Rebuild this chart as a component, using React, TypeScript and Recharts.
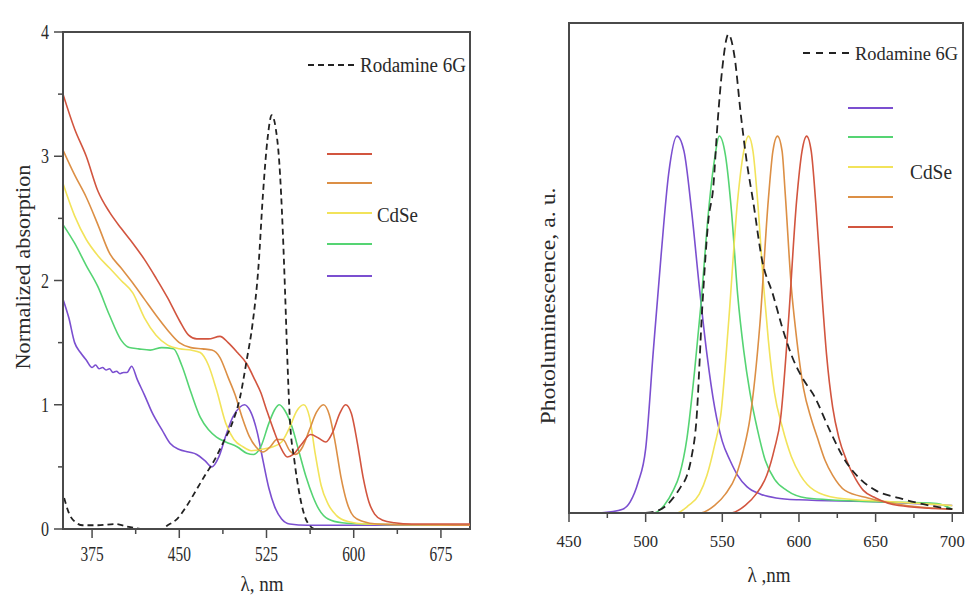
import React from "react";
import { LineChart, Line, XAxis, YAxis, ReferenceArea } from "recharts";

const serif = "'Liberation Serif', 'DejaVu Serif', serif";
const axisColor = "#4a4a4a";
const textColor = "#2a2a2a";

const cRed = "#d2553f";
const cOrange = "#dc8f45";
const cYellow = "#f2e35a";
const cGreen = "#55d473";
const cPurple = "#7b4fd0";
const cDash = "#222";

// ---- absorption spectra (left), [wavelength nm, normalized absorption]
const absRed: [number, number][] = [
  [350, 3.5], [360, 3.22], [370, 3.0], [380, 2.72], [390, 2.55], [400, 2.42], [410, 2.3],
  [420, 2.17], [430, 2.02], [440, 1.86], [450, 1.68], [458, 1.56], [465, 1.53], [475, 1.53],
  [485, 1.55], [492, 1.5], [500, 1.42], [508, 1.33], [515, 1.2], [520, 1.1], [525, 0.96],
  [531, 0.8], [537, 0.66], [543, 0.58], [548, 0.6], [555, 0.68], [563, 0.76], [570, 0.73],
  [576, 0.7], [582, 0.78], [588, 0.93], [593, 1.0], [598, 0.93], [603, 0.7], [608, 0.42],
  [613, 0.22], [618, 0.12], [625, 0.07], [635, 0.05], [650, 0.04], [700, 0.04],
];
const absOrange: [number, number][] = [
  [350, 3.05], [360, 2.85], [370, 2.67], [380, 2.45], [390, 2.22], [400, 2.1], [410, 1.98],
  [420, 1.85], [430, 1.72], [440, 1.6], [450, 1.5], [460, 1.46], [470, 1.45], [478, 1.44],
  [485, 1.38], [492, 1.22], [498, 1.08], [504, 0.9], [510, 0.75], [516, 0.66], [522, 0.62],
  [528, 0.66], [534, 0.72], [539, 0.72], [545, 0.63], [550, 0.6], [556, 0.66], [562, 0.8],
  [568, 0.94], [574, 1.0], [579, 0.92], [584, 0.7], [589, 0.42], [594, 0.22], [600, 0.1],
  [608, 0.06], [620, 0.04], [700, 0.03],
];
const absYellow: [number, number][] = [
  [350, 2.78], [360, 2.52], [370, 2.33], [380, 2.2], [390, 2.1], [400, 2.0], [410, 1.9],
  [420, 1.7], [430, 1.56], [440, 1.48], [450, 1.45], [460, 1.44], [468, 1.42], [475, 1.32],
  [482, 1.12], [490, 0.85], [497, 0.72], [505, 0.66], [512, 0.63], [520, 0.64], [530, 0.66],
  [538, 0.7], [545, 0.82], [551, 0.95], [557, 1.0], [562, 0.9], [567, 0.6], [572, 0.35],
  [578, 0.2], [585, 0.11], [595, 0.06], [610, 0.04], [700, 0.03],
];
const absGreen: [number, number][] = [
  [350, 2.45], [360, 2.3], [370, 2.12], [380, 1.95], [390, 1.72], [400, 1.52], [407, 1.46],
  [415, 1.45], [425, 1.44], [435, 1.46], [445, 1.45], [452, 1.32], [460, 1.1], [468, 0.9],
  [475, 0.8], [482, 0.74], [490, 0.7], [500, 0.66], [508, 0.61], [514, 0.6], [520, 0.66],
  [527, 0.85], [532, 0.96], [536, 1.0], [541, 0.95], [547, 0.82], [553, 0.62], [559, 0.42],
  [565, 0.26], [570, 0.16], [578, 0.08], [590, 0.05], [610, 0.04], [700, 0.03],
];
const absPurple: [number, number][] = [
  [350, 1.85], [355, 1.7], [360, 1.5], [365, 1.42], [370, 1.36], [375, 1.3], [378, 1.32],
  [381, 1.29], [384, 1.3], [387, 1.28], [390, 1.29], [393, 1.26], [396, 1.27], [399, 1.25],
  [402, 1.26], [405, 1.26], [409, 1.31], [414, 1.2], [420, 1.08], [427, 0.93], [435, 0.8],
  [442, 0.69], [450, 0.64], [458, 0.62], [465, 0.6], [472, 0.55], [478, 0.5], [484, 0.58],
  [490, 0.75], [496, 0.9], [502, 0.98], [506, 1.0], [511, 0.95], [517, 0.78], [522, 0.55],
  [527, 0.33], [532, 0.18], [538, 0.08], [545, 0.04], [560, 0.03], [700, 0.03],
];
const absRhodamine: [number, number][] = [
  [351, 0.25], [355, 0.13], [360, 0.06], [367, 0.03], [380, 0.03], [395, 0.04], [405, 0.02],
  [420, 0.0], [435, 0.0], [440, 0.03], [448, 0.08], [456, 0.18], [465, 0.32], [472, 0.43],
  [480, 0.55], [488, 0.7], [495, 0.84], [502, 1.05], [508, 1.36], [513, 1.65], [518, 2.1],
  [522, 2.7], [526, 3.15], [529.5, 3.33], [533, 3.22], [536, 2.95], [539, 2.4], [541, 1.9],
  [543, 1.35], [545, 0.9], [549, 0.55], [553, 0.3], [558, 0.1], [562, 0.03], [566, 0.0],
];

// ---- photoluminescence spectra (right), [wavelength nm, intensity a.u.]
const plPurple: [number, number][] = [
  [470, 0], [485, 0.01], [490, 0.03], [495, 0.08], [500, 0.17], [505, 0.43], [510, 0.68],
  [515, 0.9], [520.5, 1.0], [525, 0.96], [530, 0.8], [535, 0.6], [540, 0.42], [545, 0.28],
  [550, 0.19], [555, 0.14], [560, 0.1], [566, 0.07], [575, 0.05], [585, 0.04], [600, 0.035],
  [650, 0.03], [700, 0.02],
];
const plGreen: [number, number][] = [
  [470, 0], [505, 0], [512, 0.02], [518, 0.06], [522, 0.1], [527, 0.2], [532, 0.38],
  [536, 0.55], [541, 0.8], [545, 0.94], [548, 1.0], [552, 0.95], [556, 0.8], [560, 0.58],
  [564, 0.43], [568, 0.32], [573, 0.22], [578, 0.14], [584, 0.09], [592, 0.06], [605, 0.04],
  [650, 0.03], [690, 0.025], [700, 0.01],
];
const plYellow: [number, number][] = [
  [470, 0], [520, 0], [528, 0.02], [535, 0.05], [540, 0.1], [545, 0.18], [549, 0.26],
  [554, 0.5], [560, 0.83], [564, 0.96], [567, 1.0], [570, 0.96], [573, 0.83], [577, 0.6],
  [580, 0.46], [584, 0.32], [589, 0.23], [595, 0.15], [601, 0.1], [610, 0.06], [625, 0.04],
  [660, 0.03], [700, 0.02],
];
const plOrange: [number, number][] = [
  [470, 0], [535, 0], [545, 0.02], [552, 0.05], [559, 0.1], [564, 0.17], [568, 0.25],
  [574.5, 0.5], [580, 0.83], [583, 0.96], [586, 1.0], [589, 0.96], [591, 0.85], [595, 0.6],
  [598, 0.48], [603, 0.33], [608, 0.25], [612, 0.2], [617, 0.14], [622, 0.1], [630, 0.06],
  [645, 0.04], [670, 0.02], [700, 0.01],
];
const plRed: [number, number][] = [
  [470, 0], [555, 0], [565, 0.02], [572, 0.05], [579, 0.1], [584, 0.17], [588, 0.25],
  [593, 0.5], [598.5, 0.83], [602, 0.96], [605, 1.0], [608, 0.96], [611, 0.82], [615, 0.58],
  [618, 0.42], [622, 0.28], [626, 0.2], [631, 0.14], [637, 0.09], [642, 0.06], [650, 0.04],
  [665, 0.02], [700, 0.01],
];
const plRhodamine: [number, number][] = [
  [500, 0], [510, 0.01], [518, 0.04], [523, 0.07], [527, 0.1], [530, 0.15], [533, 0.24],
  [537, 0.55], [541, 0.78], [544, 0.86], [547, 1.04], [550, 1.18], [554, 1.27], [558, 1.21],
  [562, 1.06], [566, 0.93], [570, 0.83], [576, 0.67], [583, 0.58], [590, 0.48], [596, 0.41],
  [602, 0.36], [610, 0.31], [620, 0.22], [630, 0.14], [640, 0.09], [650, 0.06], [665, 0.04],
  [685, 0.02], [700, 0.01],
];

// ---- axes
const absXTicks = [375, 412.5, 450, 487.5, 525, 562.5, 600, 637.5, 675];
const absYTicks = [0, 0.5, 1, 1.5, 2, 2.5, 3, 3.5, 4];
const plXTicks = [450, 475, 500, 525, 550, 575, 600, 625, 650, 675, 700];

const toPts = (arr: [number, number][]) => arr.map(([x, y]) => ({ x, y }));

const textStyle = { fontFamily: serif };

const makeXTick = (isMajor: (v: number) => boolean, labelDy: number, charW: number, size: number) =>
  (props: any) => {
    const { x, y, payload } = props;
    const v = payload.value;
    const major = isMajor(v);
    const label = String(v);
    return (
      <g>
        <line x1={x} x2={x} y1={y} y2={y + (major ? 9 : 5)} stroke={axisColor} strokeWidth={1.5} />
        {major && (
          <text x={x} y={y + labelDy} textAnchor="middle" style={textStyle} fontSize={size}
            fill={textColor} textLength={charW * label.length} lengthAdjust="spacingAndGlyphs">
            {label}
          </text>
        )}
      </g>
    );
  };

const absYTick = (props: any) => {
  const { x, y, payload } = props;
  const v = payload.value;
  const major = Number.isInteger(v);
  return (
    <g>
      <line x1={x - (major ? 9 : 5)} x2={x} y1={y} y2={y} stroke={axisColor} strokeWidth={1.5} />
      {major && (
        <text x={x - 14} y={y + 7} textAnchor="end" style={textStyle} fontSize={20}
          fill={textColor} textLength={8} lengthAdjust="spacingAndGlyphs">
          {String(v)}
        </text>
      )}
    </g>
  );
};

const lineProps = { type: "monotone" as const, dataKey: "y", dot: false, isAnimationActive: false, strokeWidth: 1.6 };

const LegendLine = ({ x1, x2, y, color, dash }: { x1: number; x2: number; y: number; color: string; dash?: string }) => (
  <line x1={x1} x2={x2} y1={y} y2={y} stroke={color} strokeWidth={2} strokeDasharray={dash} />
);

const Label = ({ x, y, text, len, size = 20, rotate = false, anchor = "start" }: any) => (
  <text x={x} y={y} style={textStyle} fontSize={size} fill={textColor} textAnchor={anchor}
    textLength={len} lengthAdjust="spacingAndGlyphs"
    transform={rotate ? `rotate(-90 ${x} ${y})` : undefined}>
    {text}
  </text>
);

export default function App() {
  return (
    <div style={{ position: "absolute", left: 0, top: 0, width: 965, height: 595, background: "#fff" }}>
      <div style={{ position: "absolute", left: 0, top: 0 }}>
        <LineChart width={480} height={595} margin={{ top: 32, right: 10, bottom: 0, left: 0 }}>
          <XAxis dataKey="x" type="number" domain={[350, 700]} ticks={absXTicks} interval={0}
            height={66} tickSize={0} tickMargin={0} tickLine={false}
            axisLine={{ stroke: axisColor, strokeWidth: 2 }}
            tick={makeXTick((v) => v % 75 === 0, 32, 7.7, 20)} allowDataOverflow />
          <YAxis type="number" domain={[0, 4]} ticks={absYTicks} interval={0} width={63}
            tickSize={0} tickMargin={0} tickLine={false}
            axisLine={{ stroke: axisColor, strokeWidth: 2 }} tick={absYTick} allowDataOverflow />
          <ReferenceArea x1={350} x2={700} y1={0} y2={4} fill="none" stroke={axisColor} strokeWidth={2} />
          <Line {...lineProps} data={toPts(absPurple)} stroke={cPurple} />
          <Line {...lineProps} data={toPts(absGreen)} stroke={cGreen} />
          <Line {...lineProps} data={toPts(absYellow)} stroke={cYellow} />
          <Line {...lineProps} data={toPts(absOrange)} stroke={cOrange} />
          <Line {...lineProps} data={toPts(absRed)} stroke={cRed} />
          <Line {...lineProps} data={toPts(absRhodamine)} stroke={cDash} strokeDasharray="6 4" strokeWidth={1.8} />
        </LineChart>
      </div>
      <div style={{ position: "absolute", left: 480, top: 0 }}>
        <LineChart width={485} height={595} margin={{ top: 23, right: 2, bottom: 0, left: 0 }}>
          <XAxis dataKey="x" type="number" domain={[450, 707]} ticks={plXTicks} interval={0}
            height={82} tickSize={0} tickMargin={0} tickLine={false}
            axisLine={{ stroke: axisColor, strokeWidth: 2 }}
            tick={makeXTick((v) => v % 50 === 0, 34, 8.3, 17)} allowDataOverflow />
          <YAxis type="number" domain={[0, 1.3]} width={89} tick={false} tickLine={false}
            axisLine={{ stroke: axisColor, strokeWidth: 2 }} allowDataOverflow />
          <ReferenceArea x1={450} x2={707} y1={0} y2={1.3} fill="none" stroke={axisColor} strokeWidth={2} />
          <Line {...lineProps} data={toPts(plPurple)} stroke={cPurple} />
          <Line {...lineProps} data={toPts(plGreen)} stroke={cGreen} />
          <Line {...lineProps} data={toPts(plYellow)} stroke={cYellow} />
          <Line {...lineProps} data={toPts(plOrange)} stroke={cOrange} />
          <Line {...lineProps} data={toPts(plRed)} stroke={cRed} />
          <Line {...lineProps} data={toPts(plRhodamine)} stroke={cDash} strokeDasharray="8 5" strokeWidth={1.8} />
        </LineChart>
      </div>
      <svg width={965} height={595} style={{ position: "absolute", left: 0, top: 0, pointerEvents: "none" }}>
        {/* left panel labels + legend */}
        <Label x={30} y={267} text="Normalized absorption" len={205} size={21} rotate anchor="middle" />
        <Label x={262} y={591} text="λ, nm" len={43} size={20} anchor="middle" />
        <LegendLine x1={308} x2={357} y={65} color={cDash} dash="6 4" />
        <Label x={360} y={72} text="Rodamine 6G" len={106} size={20} />
        <LegendLine x1={327} x2={372} y={154} color={cRed} />
        <LegendLine x1={327} x2={372} y={183} color={cOrange} />
        <LegendLine x1={327} x2={372} y={213} color={cYellow} />
        <LegendLine x1={327} x2={372} y={244} color={cGreen} />
        <LegendLine x1={327} x2={372} y={276} color={cPurple} />
        <Label x={377} y={222} text="CdSe" len={41} size={20} />
        {/* right panel labels + legend */}
        <Label x={555} y={306} text="Photoluminescence, a. u." len={237} size={21} rotate anchor="middle" />
        <Label x={769} y={582} text="λ ,nm" len={43} size={20} anchor="middle" />
        <LegendLine x1={803} x2={853} y={53} color={cDash} dash="7 6" />
        <Label x={855} y={60} text="Rodamine 6G" len={103} size={18.5} />
        <LegendLine x1={848} x2={893} y={108} color={cPurple} />
        <LegendLine x1={848} x2={893} y={137} color={cGreen} />
        <LegendLine x1={848} x2={893} y={167} color={cYellow} />
        <LegendLine x1={848} x2={893} y={197} color={cOrange} />
        <LegendLine x1={848} x2={893} y={227} color={cRed} />
        <Label x={910} y={179} text="CdSe" len={42} size={20} />
      </svg>
    </div>
  );
}
